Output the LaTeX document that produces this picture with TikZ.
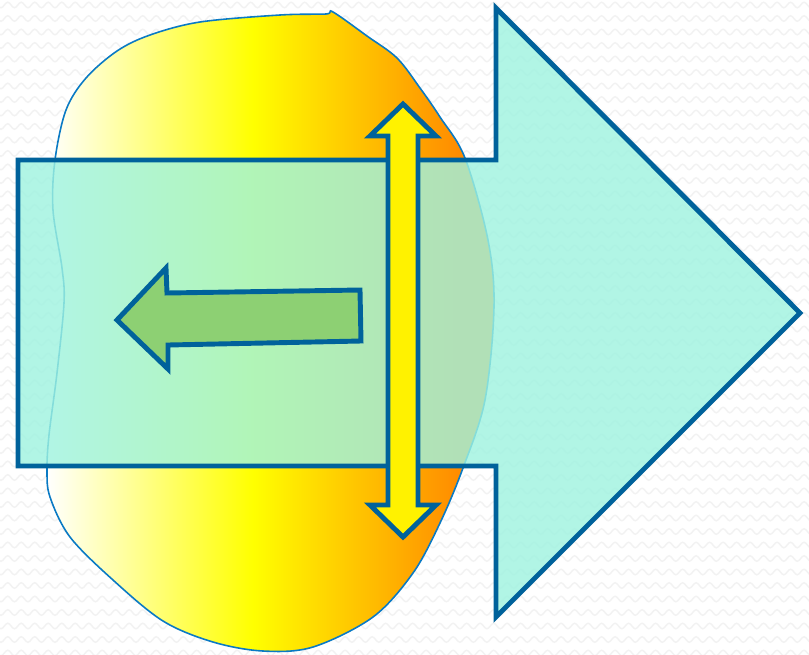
\documentclass[tikz,border=0pt]{standalone}
\usepackage{xcolor}
\usetikzlibrary{decorations.pathmorphing}

\definecolor{edgeblue}{RGB}{0,98,155}
\definecolor{blobline}{RGB}{10,122,196}
\definecolor{deeporange}{RGB}{255,140,0}
\definecolor{aqua}{RGB}{160,243,224}
\definecolor{leafgreen}{RGB}{141,208,115}

\pgfdeclarehorizontalshading{blobfade}{100bp}{color(0bp)=(white); color(25bp)=(white);
    color(48bp)=(yellow); color(71bp)=(deeporange); color(100bp)=(deeporange)}

\tikzset{
    zig/.style={black!5, line width=0.8pt, decorate,
        decoration={snake, segment length=0.27cm, amplitude=0.055cm}},
    outline/.style={edgeblue, line width=2.8pt, line join=miter},
}

\begin{document}
\begin{tikzpicture}[x=0.02cm, y=-0.02cm]

        \useasboundingbox (0,0) rectangle (809,654);

        % backdrop
        \fill[white] (0,0) rectangle (809,654);
        \begin{scope}
            \clip (0,0) rectangle (809,654);
            \foreach \r in {0,...,48}
                \draw[zig] (-10,\r*13.5+5) -- (820,\r*13.5+5);
        \end{scope}

        % blob
        \draw[blobline, line width=0.9pt, shading=blobfade]
            plot[smooth cycle, tension=0.55] coordinates {
                (333,12) (367,36) (397,58) (420,88) (440,117) (465,158)
                (488,240) (494,307) (485,400) (463,468) (440,523) (413,573)
                (373,617) (313,647) (263,651) (213,642) (163,621) (113,580)
                (70,537) (50,497) (47,470) (49,435) (57,373) (64,303)
                (62,268) (53,210) (55,160) (66,110) (86,78) (117,51)
                (150,35) (200,22) (280,15) (326,14)};

        % big arrow
        \fill[aqua, fill opacity=0.82]
            (18,160) -- (496,160) -- (496,8) -- (800,313) -- (496,617)
            -- (496,466) -- (18,466) -- cycle;
        \draw[outline]
            (18,160) -- (496,160) -- (496,8) -- (800,313) -- (496,617)
            -- (496,466) -- (18,466) -- cycle;

        % up/down arrow
        \draw[outline, fill=yellow]
            (403,104) -- (436,136) -- (418,136) -- (418,505) -- (436,505)
            -- (403,537) -- (370,505) -- (388,505) -- (388,136) -- (370,136) -- cycle;

        % left arrow
        \draw[outline, fill=leafgreen]
            (117,320) -- (166,268) -- (167,293) -- (360,290) -- (361,341)
            -- (168,345) -- (168,369) -- cycle;

    \end{tikzpicture}
\end{document}
